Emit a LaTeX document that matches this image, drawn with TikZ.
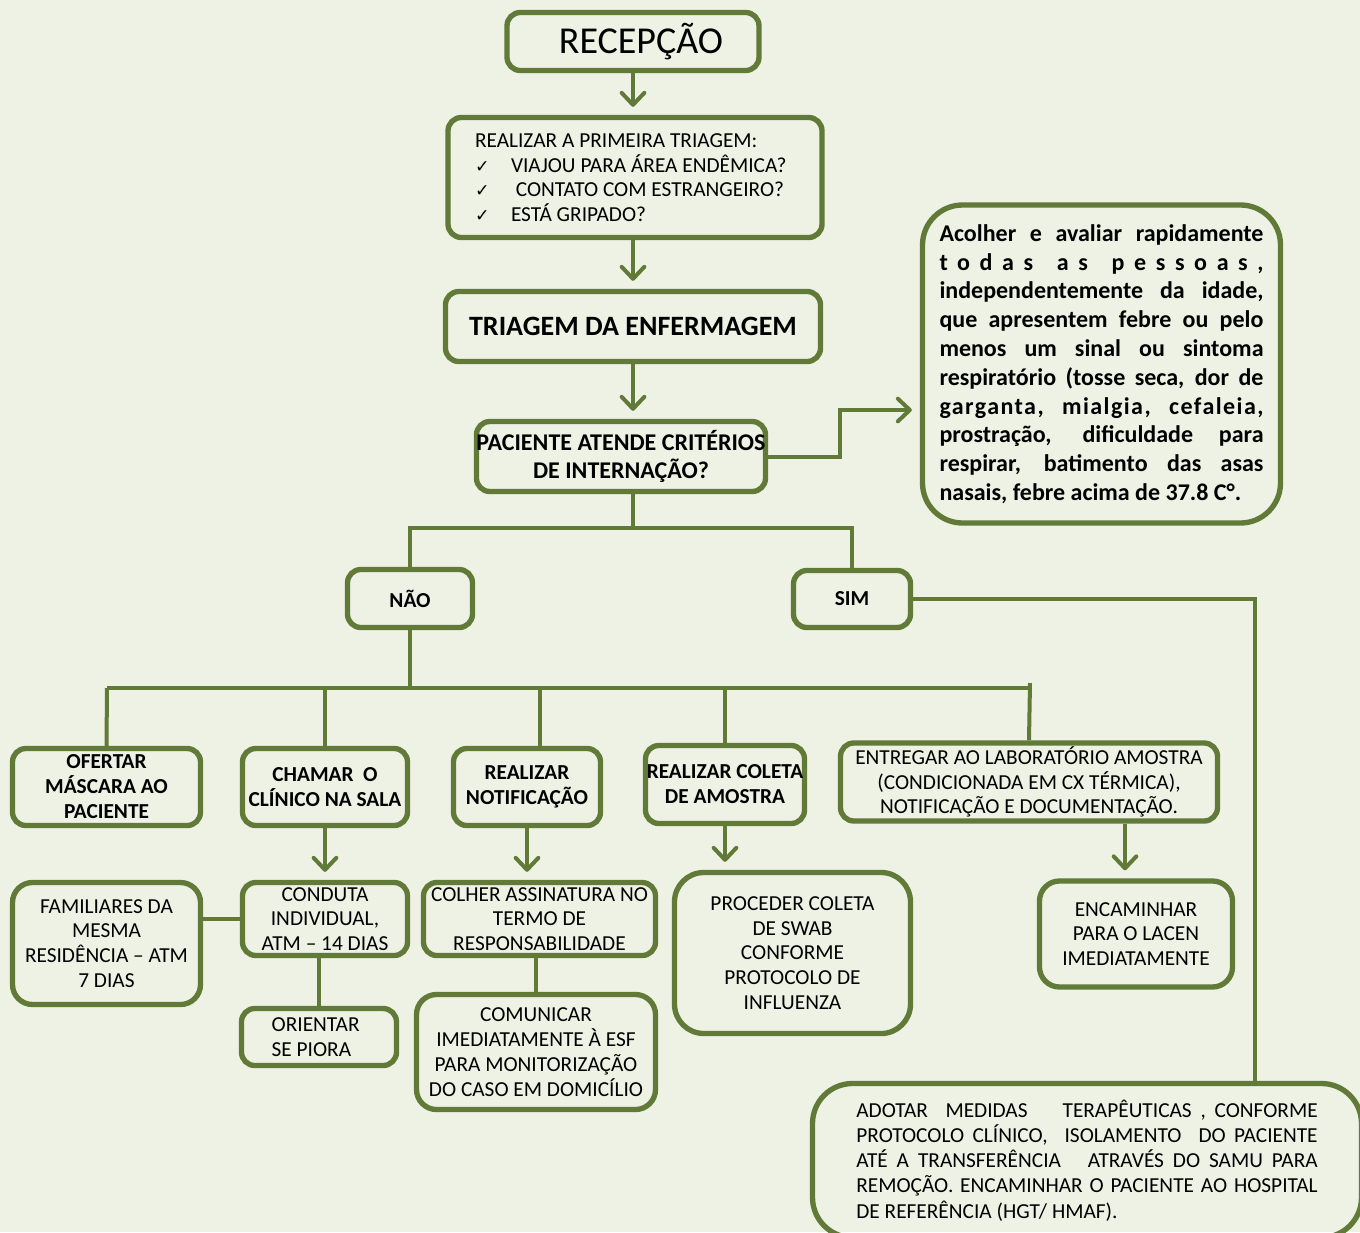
\documentclass[tikz,border=0pt]{standalone}
\usepackage{fontspec}
\setmainfont{Carlito}
\newfontfamily\symfont{DejaVu Sans}
\usetikzlibrary{arrows.meta}
\usetikzlibrary{calc}
\definecolor{bgcream}{RGB}{238,242,229}
\definecolor{olive}{RGB}{98,122,55}
\newcommand{\fs}[2]{\fontsize{#1}{#2}\selectfont}
\newcommand{\jline}[1]{\makebox[\hsize][s]{#1}\\}
\newcommand{\chk}{\makebox[27pt][l]{\symfont\fontsize{13}{13}\selectfont ✓}}

\begin{document}
\begin{tikzpicture}[x=0.75pt,y=-0.75pt,
    box/.style={draw=olive,line width=4pt,rounded corners=10pt,inner sep=0pt,align=center,font=\fs{16}{18.6}},
    bbox/.style={box,font=\fs{16}{18.75}\bfseries},
    sz/.style 2 args={minimum width=#1*0.75pt,minimum height=#2*0.75pt},
    link/.style={draw=olive,line width=3pt},
    arr/.style={link,-{Straight Barb[length=9pt,width=17pt,round]},shorten >=6pt}]
            \path[use as bounding box] (0,0) rectangle (1360,1232);
            \fill[bgcream] (0,0) rectangle (1360,1232);
            \clip (0,0) rectangle (1360,1232);

            \node[box,sz={252}{58},font=\fs{28.5}{32}] (recepcao) at (633,41.5) {\hspace{12pt}RECEPÇÃO};
            \node[box,sz={374}{120},text width=240pt,align=flush left,font=\fs{16}{18.5}] (primeira) at (635,177.5) {REALIZAR A PRIMEIRA TRIAGEM:\\
              \chk VIAJOU PARA ÁREA ENDÊMICA?\\ \chk\ CONTATO COM ESTRANGEIRO?\\ \chk ESTÁ GRIPADO?};
            \node[bbox,sz={375}{70},font=\fs{21}{24}\bfseries] (triagem) at (633,326.5) {TRIAGEM DA ENFERMAGEM};
            \node[bbox,sz={289}{70},font=\fs{18}{20.5}\bfseries] (criterios) at (621,456.5) {PACIENTE ATENDE CRITÉRIOS\\DE INTERNAÇÃO?};
            \node[box,sz={358}{318},rounded corners=30pt,text width=243pt,align=flush left,font=\fs{18}{21.6}\bfseries] (acolher) at (1101.5,364) {%
              \jline{Acolher e avaliar rapidamente}
              \jline{{\addfontfeature{LetterSpace=40}todas as pessoas,}}
              \jline{independentemente da idade,}
              \jline{que apresentem febre ou pelo}
              \jline{menos um sinal ou sintoma}
              \jline{respiratório (tosse seca, dor de}
              \jline{{\addfontfeature{LetterSpace=6}garganta, mialgia, cefaleia,}}
              \jline{prostração, dificuldade para}
              \jline{respirar, batimento das asas}
              nasais, febre acima de 37.8 C°.};

            \node[bbox,sz={125}{58}] (nao) at (410,598.5) {NÃO};
            \node[bbox,sz={117}{57}] (sim) at (852,599) {SIM};

            \node[bbox,sz={188}{77}] (ofertar) at (106.5,787) {OFERTAR\\MÁSCARA AO\\PACIENTE};
            \node[bbox,sz={165}{77}] (chamar) at (325,787) {CHAMAR~ O\\CLÍNICO NA SALA};
            \node[bbox,sz={147}{77}] (notif) at (527,787) {REALIZAR\\NOTIFICAÇÃO};
            \node[bbox,sz={159}{78}] (coleta) at (725,784.5) {REALIZAR COLETA\\DE AMOSTRA};
            \node[box,sz={377}{78}] (entregar) at (1029,782) {ENTREGAR AO LABORATÓRIO AMOSTRA\\(CONDICIONADA EM CX TÉRMICA),\\NOTIFICAÇÃO E DOCUMENTAÇÃO.};

            \node[box,sz={188}{122},rounded corners=15pt] (familiares) at (106.5,943.5) {FAMILIARES DA\\MESMA\\RESIDÊNCIA – ATM\\7 DIAS};
            \node[box,sz={165}{73}] (conduta) at (325,919) {CONDUTA\\INDIVIDUAL,\\ATM – 14 DIAS};
            \node[box,sz={155}{57},text width=71pt,align=flush left] (orientar) at (319,1037) {ORIENTAR\\SE PIORA};
            \node[box,sz={232}{73}] (colher) at (539.5,919) {COLHER ASSINATURA NO\\TERMO DE\\RESPONSABILIDADE};
            \node[box,sz={239}{115},rounded corners=15pt] (comunicar) at (536,1052) {COMUNICAR\\IMEDIATAMENTE À ESF\\PARA MONITORIZAÇÃO\\DO CASO EM DOMICÍLIO};
            \node[box,sz={236}{161},rounded corners=22pt] (proceder) at (792.5,953) {PROCEDER COLETA\\DE SWAB\\CONFORME\\PROTOCOLO DE\\INFLUENZA};
            \node[box,sz={193}{106},rounded corners=15pt] (encaminhar) at (1136,934) {ENCAMINHAR\\PARA O LACEN\\IMEDIATAMENTE};
            \node[box,sz={549}{154},rounded corners=30pt,text width=346pt,align=flush left,font=\fs{16}{18.9}] (adotar) at (1087,1160.5) {%
              \jline{ADOTAR~ MEDIDAS~~~ TERAPÊUTICAS , CONFORME}
              \jline{PROTOCOLO CLÍNICO,~ ISOLAMENTO~ DO PACIENTE}
              \jline{ATÉ A TRANSFERÊNCIA~~ ATRAVÉS DO SAMU PARA}
              \jline{REMOÇÃO. ENCAMINHAR O PACIENTE AO HOSPITAL}
              DE REFERÊNCIA (HGT/ HMAF).};

            \draw[arr] (recepcao) to (recepcao |- primeira.north);
            \draw[arr] (recepcao |- primeira.south) to (triagem);
            \draw[arr] (triagem.south) to (triagem.south |- criterios.north);
            \coordinate (elbow) at (840,410);
            \draw[arr] (criterios.east) -| (elbow) -- (elbow -| acolher.west);

            \coordinate (split) at (633,528);
            \draw[link] (criterios.south -| split) -- (split);
            \draw[link] (nao.north) |- (split) -| (sim.north);

            \coordinate (busL) at (107,688);
            \coordinate (busR) at (1030,688);
            \coordinate (busT) at (1030,683);
            \draw[link] (nao.south) -- (nao.south |- busL);
            \draw[link] (busL) -- (busR);
            \draw[link] (busL) -- (ofertar.north);
            \draw[link] (chamar.north |- busL) -- (chamar.north);
            \draw[link] (540,688) -- (notif.north -| 540,0);
            \draw[link] (coleta.north |- busL) -- (coleta.north);
            \draw[link] (busT) -- (entregar.north);

            \coordinate (simR) at (1255,599);
            \draw[link] (sim.east) -- (simR) -- (simR |- adotar.north);

            \draw[arr] (chamar) to (conduta);
            \draw[link] (familiares.east |- conduta.west) -- (conduta.west);
            \draw[link] (conduta.south -| orientar.north) -- (orientar.north);
            \draw[arr] (notif.south) to (notif.south |- colher.north);
            \draw[link] (colher.south -| comunicar.north) -- (comunicar.north);
            \draw[arr] (coleta.south) to (coleta.south |- proceder.north);
            \draw[arr] (entregar.south -| 1125,0) to (encaminhar.north -| 1125,0);
        \end{tikzpicture}
\end{document}
